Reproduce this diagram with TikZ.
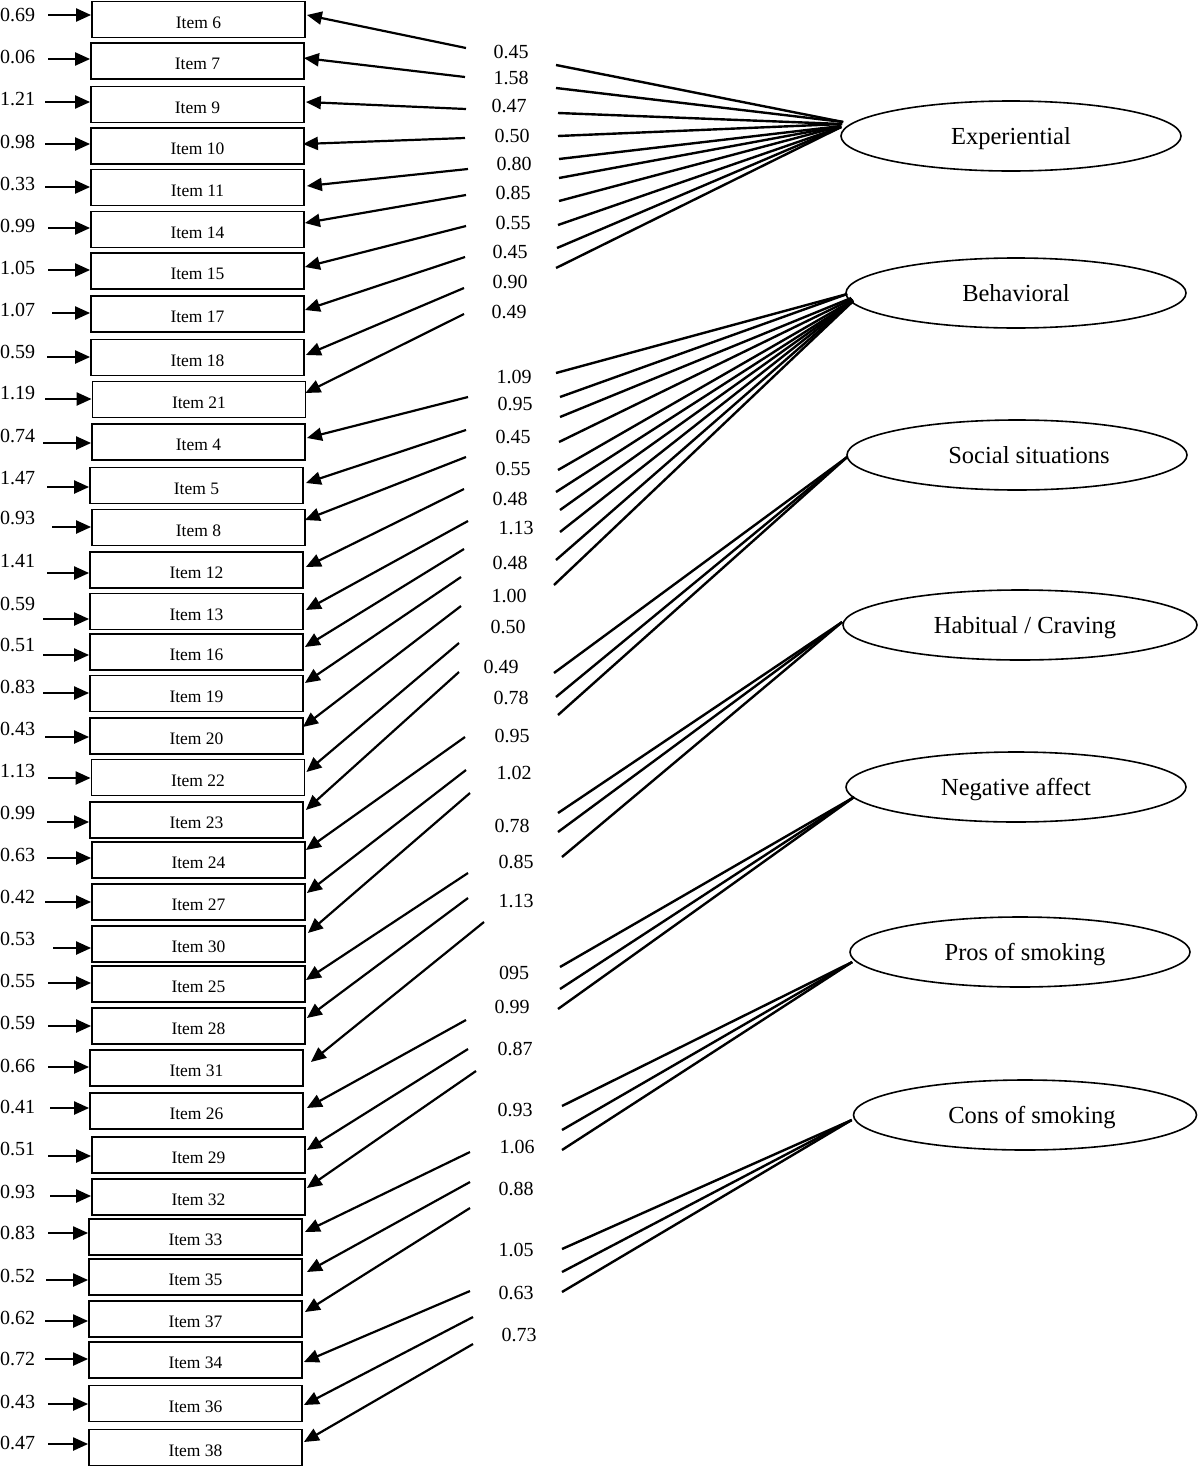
\documentclass[tikz,border=0pt]{standalone}
\usepackage{fontspec}
\setmainfont{Liberation Serif}
\usetikzlibrary{shapes.geometric,arrows.meta,calc}
\begin{document}
\begin{tikzpicture}[x=1pt,y=-1pt,
  itembox/.style={draw, line width=1.8pt, rectangle, minimum width=213pt, minimum height=36pt,
    inner sep=0pt, text height=19pt, text depth=1.8pt, font=\fontsize{17.5}{20}\selectfont},
  numlab/.style={inner sep=0pt, text height=13.5pt, text depth=0pt, font=\fontsize{20}{24}\selectfont},
  latent/.style={draw, ellipse, line width=1.6pt, minimum width=340pt, minimum height=70pt,
    inner sep=0pt, text height=16.2pt, text depth=0pt, font=\fontsize{24.5}{28}\selectfont},
  arr/.style={line width=2.2pt, -{Triangle[length=15pt,width=13pt]}},
  seg/.style={line width=2.4pt}]
\useasboundingbox (0,0) rectangle (1200,1467);

% observed items
\foreach \id/\cy/\cx in {6/19.5/198.5, 7/61/197.5, 9/104.5/197.5, 10/146/197.5, 11/187.5/197.5,
  14/229.5/197.5, 15/271/197.5, 17/314/197.5, 18/357.5/197.5, 21/399.5/199, 4/442/198.5,
  5/485.5/196.5, 8/527.5/198.5, 12/570/196.5, 13/611.5/196.5, 16/652/196.5, 19/693.5/196.5,
  20/736/196.5, 22/777.5/198, 23/820/196.5, 24/860/198.5, 27/902/198.5, 30/944/198.5,
  25/984/198.5, 28/1026/198.5, 31/1068/196.5, 26/1111/196.5, 29/1155/198.5, 32/1197/198.5,
  33/1237/195.5, 35/1277/195.5, 37/1319/195.5, 34/1360/195.5, 36/1403.5/195.5, 38/1447.5/195.5}
  {\node[itembox] (i\id) at (\cx,\cy) {Item \id};}

% error variances
\foreach \id/\ey/\ex/\ty/\val in {6/15/48/15/0.69, 7/59/48/57/0.06, 9/102/45/99/1.21,
  10/144/45/142/0.98, 11/187/45/184/0.33, 14/228/48/226/0.99, 15/270/48/268/1.05,
  17/313/52/310/1.07, 18/357/47/352/0.59, 21/399/45/393/1.19, 4/443/43/436/0.74,
  5/487/47/478/1.47, 8/527/52/518/0.93, 12/573/47/561/1.41, 13/619/43/604/0.59,
  16/655/43/645/0.51, 19/693/43/687/0.83, 20/737/45/729/0.43, 22/778/48/771/1.13,
  23/822/47/813/0.99, 24/858/47/855/0.63, 27/902/45/897/0.42, 30/948/53/939/0.53,
  25/983/48/981/0.55, 28/1026/48/1023/0.59, 31/1067/48/1066/0.66, 26/1108/50/1107/0.41,
  29/1156/48/1149/0.51, 32/1196/50/1192/0.93, 33/1233/48/1233/0.83, 35/1280/46/1276/0.52,
  37/1321/45/1318/0.62, 34/1359/45/1359/0.72, 36/1404/48/1402/0.43, 38/1444/48/1443/0.47}
  {\node[numlab, anchor=west] (t\id) at (0,\ty) {\val};
   \coordinate (e\id) at (\ex,\ey);
   \draw[arr] (e\id) -- (e\id -| i\id.west);}

% loading arrows to items
\foreach \id/\sx/\sy/\dx/\dy in {6/466/48/1/-4.5, 7/465/77/-1/-3, 9/466/109/1/-2.5,
  10/465/138/-2/-2, 11/468/169/2/-1.5, 14/466/195/0/-6.5, 15/466/226/0/-4, 17/465/257/0/-4,
  18/464/288/1/-2.5, 21/464/314/-1/-6.5, 4/468/397/1/-4, 5/466/430/2/-2.5, 8/466/457/-1/-7.5,
  12/464/489/2/-3, 13/468/521/2/-1.5, 16/464/549/1/-5, 19/461/577/1/-10.5, 20/461/606/-1/-9,
  22/459/643/1/-5.5, 23/459/672/2/-10, 24/465/737/0/-10, 27/466/770/1/-9, 30/470/793/2/-11,
  25/468/873/0/-4, 28/468/898/1/-8, 31/484/922/7/-6, 26/466/1020/3/-3, 29/468/1049/1/-5,
  32/476/1071/1/-9, 33/470/1152/2/-5, 35/470/1182/4/-5, 37/470/1208/2/-7, 34/470/1291/1/2,
  36/473/1317/1/1.5, 38/473/1344/1/-5.5}
  {\coordinate (l\id) at (\sx,\sy);
   \draw[arr] (l\id) -- ($(i\id.east)+(\dx,\dy)$);}

% loading values
\foreach \k/\x/\y/\val in {1/511/52/0.45, 2/511/78/1.58, 3/509/106/0.47, 4/512/136/0.50,
  5/514/164/0.80, 6/513/193/0.85, 7/513/223/0.55, 8/510/252/0.45, 9/510/282/0.90,
  10/509/312/0.49, 11/514/377/1.09, 12/515/404/0.95, 13/513/437/0.45, 14/513/469/0.55,
  15/510/499/0.48, 16/516/528/1.13, 17/510/563/0.48, 18/509/596/1.00, 19/508/627/0.50,
  20/501/667/0.49, 21/511/698/0.78, 22/512/736/0.95, 23/514/773/1.02, 24/512/826/0.78,
  25/516/862/0.85, 26/516/901/1.13, 27/514/973/095, 28/512/1007/0.99, 29/515/1049/0.87,
  30/515/1110/0.93, 31/517/1147/1.06, 32/516/1189/0.88, 33/516/1250/1.05, 34/516/1293/0.63,
  35/519/1335/0.73}
  {\node[numlab] (w\k) at (\x,\y) {\val};}

% latent factors
\node[latent] (exp) at (1011,136) {Experiential};
\node[latent] (beh) at (1016,293) {Behavioral};
\node[latent] (soc) at (1017,455) {\hspace*{24pt}Social situations};
\node[latent, minimum width=354pt] (hab) at (1020,625) {\hspace*{10pt}Habitual / Craving};
\node[latent] (neg) at (1016,787) {Negative affect};
\node[latent] (pro) at (1020,952) {\hspace*{10pt}Pros of smoking};
\node[latent, minimum width=343pt] (con) at (1025,1115) {\hspace*{14pt}Cons of smoking};

% segments from factors
\foreach \k/\x/\y/\dx/\dy in {1/556/65/3/-14, 2/556/88/3/-14, 3/558/113/2/-12, 4/558/136/2/-12,
  5/559/159/1/-10, 6/559/178/1/-10, 7/559/201/1/-10, 8/558/225/1/-9, 9/557/248/1/-9, 10/556/268/1/-9}
  {\coordinate (rx\k) at (\x,\y); \draw[seg] (rx\k) -- ($(exp.west)+(\dx,\dy)$);}
\foreach \k/\x/\y/\dx/\dy in {1/556/373/2/1, 2/560/397/2/1, 3/560/417/6/5, 4/559/442/7/6,
  5/558/470/8/7, 6/556/492/8/8, 7/560/510/8/8, 8/560/532/8/8, 9/556/560/8/8, 10/554/585/8/8}
  {\coordinate (rb\k) at (\x,\y); \draw[seg] (rb\k) -- ($(beh.west)+(\dx,\dy)$);}
\foreach \k/\x/\y in {1/554/673, 2/556/697, 3/558/715}
  {\coordinate (rs\k) at (\x,\y); \draw[seg] (rs\k) -- ($(soc.west)+(1,2)$);}
\foreach \k/\x/\y in {1/558/813, 2/558/832, 3/562/857}
  {\coordinate (rh\k) at (\x,\y); \draw[seg] (rh\k) -- ($(hab.west)+(0,-3)$);}
\foreach \k/\x/\y in {1/560/967, 2/560/989, 3/558/1009}
  {\coordinate (rn\k) at (\x,\y); \draw[seg] (rn\k) -- ($(neg.west)+(9,10)$);}
\foreach \k/\x/\y in {1/562/1106, 2/562/1130, 3/562/1150}
  {\coordinate (rp\k) at (\x,\y); \draw[seg] (rp\k) -- ($(pro.west)+(3,10)$);}
\foreach \k/\x/\y in {1/562/1249, 2/562/1272, 3/562/1292}
  {\coordinate (rc\k) at (\x,\y); \draw[seg] (rc\k) -- ($(con.west)+(-1,5)$);}
\end{tikzpicture}
\end{document}
